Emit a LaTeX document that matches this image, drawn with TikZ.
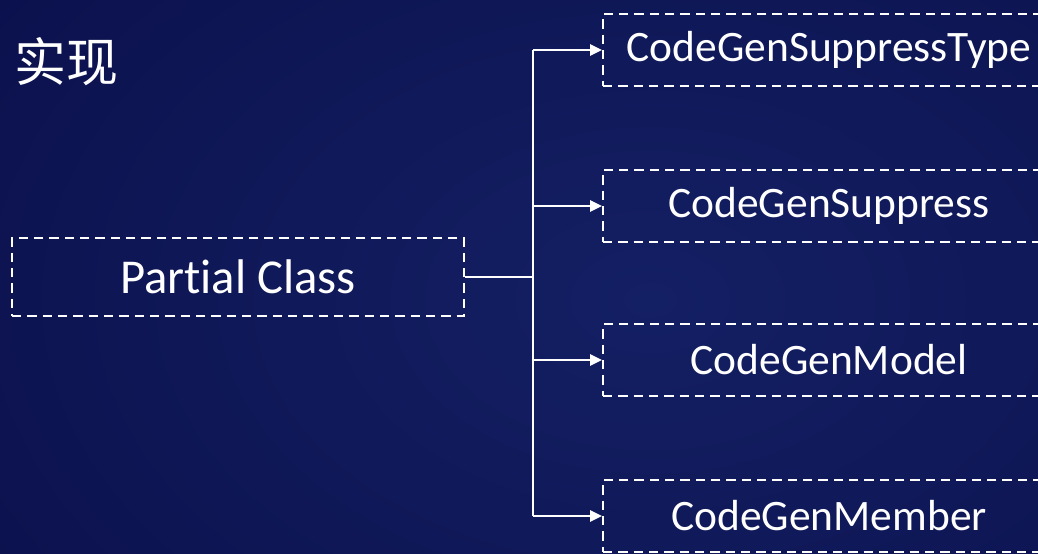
\documentclass[tikz,border=0pt]{standalone}
\usepackage{fontspec}
\setmainfont[Ligatures={NoCommon,NoRequired,NoContextual}]{Carlito}
\newfontfamily\cjk{Noto Sans CJK SC}
\usetikzlibrary{arrows.meta}
\definecolor{bgouter}{RGB}{10,15,74}
\definecolor{bginner}{RGB}{20,32,100}
\tikzset{
  dbox/.style={draw=white, line width=1.5pt, dash pattern=on 7pt off 4.5pt, text=white,
    font=\fontsize{32.6}{38}\selectfont, inner sep=0pt, minimum width=339pt},
  conn/.style={draw=white, line width=1.5pt},
  arr/.style={conn, -{Triangle[length=9pt,width=8.5pt]}},
}
\begin{document}
\begin{tikzpicture}[x=0.75pt,y=-0.75pt]
\path[use as bounding box] (0,0) rectangle (1038,553);
\clip (0,0) rectangle (1038,553);
\shade[inner color=bginner, outer color=bgouter] (-250,-300) rectangle (1550,900);
\node[text=white, font=\cjk\fontsize{39}{44}\selectfont, anchor=west, inner sep=0pt] (title) at (14,62) {实现};
\node[dbox, minimum height=58.5pt, font=\fontsize{36.5}{42}\selectfont] (pc) at (238,277) {Partial Class};
\node[dbox, minimum height=54pt, anchor=west] (b1) at (602,50) {CodeGenSuppressType};
\node[dbox, minimum height=54pt, anchor=west] (b2) at (602,206) {CodeGenSuppress};
\node[dbox, minimum height=54pt, anchor=west] (b3) at (602,360) {CodeGenModel};
\node[dbox, minimum height=54pt, anchor=west] (b4) at (602,516) {CodeGenMember};
\coordinate (j) at (533,277);
\draw[conn] (pc.east) -- (j);
\draw[conn] (j |- b1.west) -- (j |- b4.west);
\draw[arr] (j |- b1.west) -- (b1.west);
\draw[arr] (j |- b2.west) -- (b2.west);
\draw[arr] (j |- b3.west) -- (b3.west);
\draw[arr] (j |- b4.west) -- (b4.west);
\end{tikzpicture}
\end{document}
